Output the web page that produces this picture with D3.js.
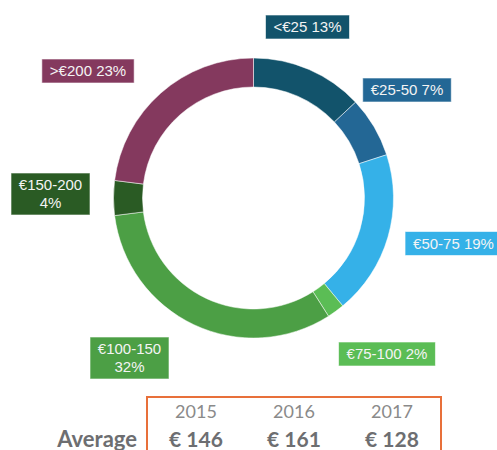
<!DOCTYPE html>
<html>
<head>
<meta charset="utf-8">
<script src="https://cdn.jsdelivr.net/npm/d3@7"></script>
<style>
  body { margin: 0; background: #fff; overflow: hidden; }
  svg { display: block; }
</style>
</head>
<body>
<svg id="canvas" width="497" height="450"></svg>
<script>
// slices clockwise from 12 o'clock
let categories = ['<€25', '€25-50', '€50-75', '€75-100', '€100-150', '€150-200', '>€200'];
let shares = [13, 7, 19, 2, 32, 4, 23];
let color = ['#12536b', '#236795', '#35b1e8', '#5bbd55', '#4c9f45', '#2a5b24', '#84395e'];

let years = ['2015', '2016', '2017'];
let averages = [146, 161, 128];

let svg = d3.select('#canvas');
let cx = 253.5, cy = 198;
let outerR = 140, innerR = 111;

let pie = d3.pie().sort(null).value(d => d.share);
let arc = d3.arc().innerRadius(innerR).outerRadius(outerR);

let slices = pie(categories.map((c, i) => ({ cat: c, share: shares[i], color: color[i] })));

let g = svg.append('g').attr('transform', 'translate(' + cx + ',' + cy + ')');

g.selectAll('path')
  .data(slices)
  .enter()
  .append('path')
  .attr('d', arc)
  .attr('fill', d => d.data.color)
  .attr('stroke', '#fff')
  .attr('stroke-width', 0.5);

// label boxes: centre offset from the donut centre, and whether the text wraps
let labelPlace = [
  { dx: 54, dy: -171, wrap: false },
  { dx: 153.5, dy: -108, wrap: false },
  { dx: 200, dy: 45.5, wrap: false },
  { dx: 133.5, dy: 156, wrap: false },
  { dx: -124, dy: 160, wrap: true },
  { dx: -203, dy: -4, wrap: true },
  { dx: -165.5, dy: -127, wrap: false }
];

let labels = g.selectAll('g.label')
  .data(slices)
  .enter()
  .append('g')
  .attr('class', 'label')
  .attr('transform', (d, i) => 'translate(' + labelPlace[i].dx + ',' + labelPlace[i].dy + ')');

labels.each(function (d, i) {
  let lg = d3.select(this);
  let lines = labelPlace[i].wrap ? [d.data.cat, d.data.share + '%'] : [d.data.cat + ' ' + d.data.share + '%'];
  let rect = lg.append('rect')
    .attr('fill', d.data.color)
    .attr('stroke', 'rgba(255,255,255,0.6)')
    .attr('stroke-width', 1);
  let txt = lg.append('text')
    .attr('text-anchor', 'middle')
    .style('font-family', '"Liberation Sans", Arial, sans-serif')
    .style('font-size', '15px')
    .attr('fill', '#f4f4f4');
  let lh = 18;
  lines.forEach((l, k) => {
    txt.append('tspan')
      .attr('x', 0)
      .attr('y', (k - (lines.length - 1) / 2) * lh + 5)
      .text(l);
  });
  let w = txt.node().getBBox().width;
  let h = lines.length === 1 ? 24 : 42;
  let bw = lines.length === 1 ? w + 16 : 79;
  rect.attr('x', -bw / 2).attr('y', -h / 2).attr('width', bw).attr('height', h);
});

// averages table
let xTable = d3.scaleBand().domain(years).range([147, 441]);

svg.append('rect')
  .attr('x', 147)
  .attr('y', 397)
  .attr('width', 294)
  .attr('height', 80)
  .attr('fill', 'none')
  .attr('stroke', '#e8703a')
  .attr('stroke-width', 2);

svg.selectAll('text.year')
  .data(years)
  .enter()
  .append('text')
  .attr('class', 'year')
  .attr('x', d => xTable(d) + xTable.bandwidth() / 2)
  .attr('y', 418)
  .attr('text-anchor', 'middle')
  .style('font-family', 'Lato, sans-serif')
  .style('font-size', '18px')
  .attr('fill', '#8a8a8a')
  .text(d => d);

svg.selectAll('text.avg')
  .data(averages)
  .enter()
  .append('text')
  .attr('class', 'avg')
  .attr('x', (d, i) => xTable(years[i]) + xTable.bandwidth() / 2)
  .attr('y', 447)
  .attr('text-anchor', 'middle')
  .style('font-family', 'Lato, sans-serif')
  .style('font-size', '21px')
  .style('font-weight', 'bold')
  .attr('fill', '#6d6e71')
  .text(d => '€ ' + d);

svg.append('text')
  .attr('x', 137)
  .attr('y', 447)
  .attr('text-anchor', 'end')
  .style('font-family', 'Lato, sans-serif')
  .style('font-size', '22px')
  .style('font-weight', 'bold')
  .attr('fill', '#6d6e71')
  .text('Average');
</script>
</body>
</html>
